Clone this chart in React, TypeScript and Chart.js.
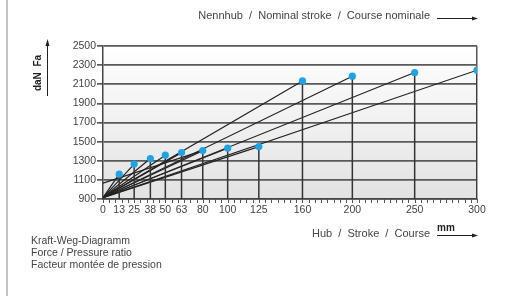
import { useEffect, useRef } from 'react';
import { Chart, registerables } from 'chart.js';
Chart.register(...registerables);

const strokes = [13, 25, 38, 50, 63, 80, 100, 125, 160, 200, 250, 300];
const forces = [1160, 1265, 1323, 1358, 1385, 1406, 1431, 1448, 2135, 2184, 2223, 2247];
const startForce = 915;
// additional characteristic line starting higher on the force axis
const extraLineX = [0, 80];
const extraLineY = [1065, 1406];
const xTickLabels = [0, 13, 25, 38, 50, 63, 80, 100, 125, 160, 200, 250, 300];
const yTickLabels = [900, 1100, 1300, 1500, 1700, 1900, 2100, 2300, 2500];
const minorStep = 5;

const FONT = '"Liberation Sans", Arial, Helvetica, sans-serif';
const TXT = '#444';

const decor = {
  id: 'decor',
  beforeDraw(chart: any) {
    const { ctx, chartArea: a } = chart;
    ctx.save();
    ctx.fillStyle = '#fff';
    ctx.fillRect(0, 0, chart.width, chart.height);
    const g = ctx.createLinearGradient(0, a.top, 0, a.bottom);
    g.addColorStop(0, '#ffffff');
    g.addColorStop(1, '#e2e2e2');
    ctx.fillStyle = g;
    ctx.fillRect(a.left, a.top, a.right - a.left, a.bottom - a.top);
    ctx.restore();
  },
  afterDraw(chart: any) {
    const { ctx, chartArea: a } = chart;
    const xs = chart.scales.x;
    ctx.save();
    ctx.strokeStyle = '#555';
    ctx.lineWidth = 1;
    for (let v = 0; v <= 300; v += minorStep) {
      const px = Math.round(xs.getPixelForValue(v)) + 0.5;
      ctx.beginPath();
      ctx.moveTo(px, a.bottom);
      ctx.lineTo(px, a.bottom + 4);
      ctx.stroke();
    }
    ctx.strokeStyle = '#c4c4c4';
    ctx.lineWidth = 2;
    ctx.beginPath();
    ctx.moveTo(7, 0);
    ctx.lineTo(7, 296);
    ctx.stroke();

    ctx.fillStyle = TXT;
    ctx.strokeStyle = '#222';
    ctx.lineWidth = 1;
    ctx.font = `11px ${FONT}`;
    ctx.textAlign = 'right';
    ctx.textBaseline = 'middle';
    ctx.fillText('Nennhub  /  Nominal stroke  /  Course nominale', 430, 16);
    const arrowR = (x1: number, x2: number, y: number) => {
      ctx.beginPath();
      ctx.moveTo(x1, y + 0.5);
      ctx.lineTo(x2 - 5, y + 0.5);
      ctx.stroke();
      ctx.beginPath();
      ctx.moveTo(x2, y + 0.5);
      ctx.lineTo(x2 - 6, y - 1.5);
      ctx.lineTo(x2 - 6, y + 2.5);
      ctx.closePath();
      ctx.fillStyle = '#222';
      ctx.fill();
      ctx.fillStyle = TXT;
    };
    arrowR(437, 478, 18);
    ctx.fillText('Hub  /  Stroke  /  Course', 430, 234);
    ctx.font = `bold 10px ${FONT}`;
    ctx.textAlign = 'left';
    ctx.fillStyle = '#222';
    ctx.fillText('mm', 437, 228);
    ctx.fillStyle = TXT;
    arrowR(437, 478, 235);
    ctx.font = `10.5px ${FONT}`;
    ctx.fillText('Kraft-Weg-Diagramm', 31, 241);
    ctx.fillText('Force / Pressure ratio', 31, 253);
    ctx.fillText('Facteur montée de pression', 31, 265);
    ctx.save();
    ctx.translate(38, 73);
    ctx.rotate(-Math.PI / 2);
    ctx.font = `bold 10px ${FONT}`;
    ctx.textAlign = 'center';
    ctx.fillStyle = '#222';
    ctx.fillText('daN  Fa', 0, 0);
    ctx.restore();
    ctx.beginPath();
    ctx.moveTo(47.5, 96);
    ctx.lineTo(47.5, 45);
    ctx.stroke();
    ctx.beginPath();
    ctx.moveTo(47.5, 39);
    ctx.lineTo(45.5, 46);
    ctx.lineTo(49.5, 46);
    ctx.closePath();
    ctx.fillStyle = '#222';
    ctx.fill();
    ctx.restore();
  },
};

export default function App() {
  const ref = useRef<HTMLCanvasElement>(null);
  useEffect(() => {
    const datasets: any[] = [];
    datasets.push({
      data: strokes.map((s, i) => ({ x: s, y: forces[i] })),
      showLine: false,
      pointRadius: 3.6,
      pointBackgroundColor: '#1ea3e6',
      pointBorderWidth: 0,
      order: 0,
    });
    strokes.forEach((s, i) => {
      datasets.push({
        data: [{ x: 0, y: startForce }, { x: s, y: forces[i] }],
        showLine: true,
        pointRadius: 0,
        borderColor: '#222',
        borderWidth: 1.2,
        order: 1,
      });
      datasets.push({
        data: [{ x: s, y: 900 }, { x: s, y: forces[i] }],
        showLine: true,
        pointRadius: 0,
        borderColor: '#333',
        borderWidth: 1.5,
        order: 1,
      });
    });
    datasets.push({
      data: extraLineX.map((x, i) => ({ x, y: extraLineY[i] })),
      showLine: true,
      pointRadius: 0,
      borderColor: '#222',
      borderWidth: 1.2,
      order: 1,
    });
    const chart = new Chart(ref.current!, {
      type: 'scatter',
      data: { datasets },
      options: {
        animation: false,
        responsive: false,
        devicePixelRatio: 1,
        layout: { padding: { top: 46, right: 35, left: 0, bottom: 0 } },
        plugins: { legend: { display: false }, tooltip: { enabled: false } },
        scales: {
          x: {
            type: 'linear',
            min: 0,
            max: 300,
            afterBuildTicks: (s: any) => {
              s.ticks = xTickLabels.map((v) => ({ value: v }));
            },
            afterFit: (s: any) => {
              s.height = 97;
            },
            ticks: {
              autoSkip: false,
              maxRotation: 0,
              padding: 1,
              color: TXT,
              font: { family: FONT, size: 10.5 },
              callback: (v: any) => String(v),
            },
            grid: {
              color: (c: any) => (c.tick && c.tick.value === 300 ? '#555' : 'rgba(0,0,0,0)'),
              lineWidth: 1.5,
              tickLength: 4,
              tickColor: 'rgba(0,0,0,0)',
            },
            border: { color: '#444', width: 1.5 },
          },
          y: {
            type: 'linear',
            min: 900,
            max: 2500,
            afterBuildTicks: (s: any) => {
              s.ticks = yTickLabels.map((v) => ({ value: v }));
            },
            afterFit: (s: any) => {
              s.width = 103;
            },
            ticks: {
              padding: 1,
              color: TXT,
              font: { family: FONT, size: 10.5 },
              callback: (v: any) => String(v),
            },
            grid: {
              color: '#5a5a5a',
              lineWidth: 1.7,
              tickLength: 6,
              tickColor: '#5a5a5a',
            },
            border: { color: '#444', width: 1.5 },
          },
        },
      },
      plugins: [decor],
    });
    return () => chart.destroy();
  }, []);
  return (
    <div style={{ position: 'fixed', left: 0, top: 0, width: 512, height: 296, background: '#fff' }}>
      <canvas ref={ref} width={512} height={296} />
    </div>
  );
}
